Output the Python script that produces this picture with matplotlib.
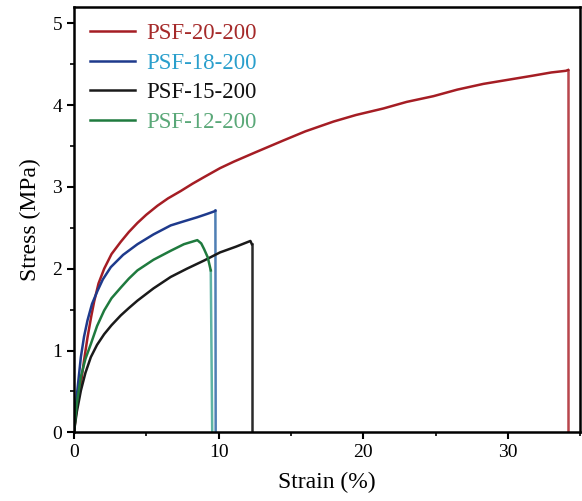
import matplotlib.pyplot as plt
from matplotlib.ticker import MultipleLocator

plt.rcParams['font.family'] = ['Liberation Serif', 'DejaVu Serif']

labels = ['PSF-20-200', 'PSF-18-200', 'PSF-15-200', 'PSF-12-200']
line_colors = ['#a51d24', '#1e3a8c', '#1a1a1a', '#1f7a3e']
drop_colors = ['#b8454c', '#4f7fb4', '#2a2a2a', '#5fb4a4']
text_colors = ['#a52a2a', '#2a9fcc', '#111111', '#5aa878']

# strain (%), stress (MPa)
strain_20 = [0, 0.2, 0.48, 0.7, 0.94, 1.2, 1.4, 1.7, 2.09, 2.6, 3.24, 3.8, 4.39, 5.0,
             5.77, 6.5, 7.38, 8.2, 8.99, 10.1, 11.06, 12.5, 14.5, 16.0, 17.95, 19.5,
             21.4, 23.0, 24.85, 26.5, 28.3, 30.0, 31.7, 33.0, 34.0, 34.16, 34.16]
stress_20 = [0, 0.3, 0.59, 0.88, 1.16, 1.42, 1.6, 1.82, 2.0, 2.18, 2.33, 2.45, 2.56,
             2.66, 2.77, 2.86, 2.95, 3.04, 3.12, 3.23, 3.31, 3.42, 3.57, 3.68, 3.80, 3.88,
             3.96, 4.04, 4.11, 4.19, 4.26, 4.31, 4.36, 4.40, 4.42, 4.43, 0]

strain_18 = [0, 0.2, 0.48, 0.7, 0.94, 1.25, 1.63, 2.0, 2.55, 3.4, 4.39, 5.5, 6.69,
             7.6, 8.53, 9.2, 9.68, 9.78, 9.8]
stress_18 = [0, 0.45, 0.92, 1.17, 1.37, 1.57, 1.73, 1.87, 2.02, 2.17, 2.30, 2.42, 2.53,
             2.58, 2.63, 2.67, 2.70, 2.71, 0]

strain_15 = [0, 0.2, 0.48, 0.8, 1.17, 1.6, 2.09, 2.6, 3.24, 3.8, 4.39, 5.5, 6.69,
             7.8, 8.99, 10.1, 11.2, 12.2, 12.3, 12.3]
stress_15 = [0, 0.25, 0.51, 0.73, 0.92, 1.07, 1.20, 1.31, 1.43, 1.52, 1.61, 1.76, 1.90,
             2.00, 2.10, 2.20, 2.27, 2.34, 2.30, 0]

strain_12 = [0, 0.2, 0.48, 0.8, 1.17, 1.6, 2.09, 2.6, 3.24, 3.8, 4.39, 5.5, 6.69,
             7.6, 8.53, 8.8, 9.0, 9.25, 9.46, 9.56]
stress_12 = [0, 0.35, 0.68, 0.90, 1.08, 1.30, 1.49, 1.64, 1.77, 1.88, 1.98, 2.11, 2.22,
             2.30, 2.35, 2.31, 2.24, 2.14, 1.98, 0]

series = [(strain_20, stress_20), (strain_18, stress_18),
          (strain_15, stress_15), (strain_12, stress_12)]

fig = plt.figure(figsize=(5.82, 5.01), dpi=100)
ax = fig.add_axes([0.127, 0.137, 0.87, 0.849])

for (x, y), lab, col, dcol in zip(series, labels, line_colors, drop_colors):
    ax.plot(x[-2:], y[-2:], color=dcol, lw=1.8)
    ax.plot(x[:-1], y[:-1], color=col, lw=1.8, label=lab)

ax.set_xlim(0, 35)
ax.set_ylim(0, 5.2)
ax.xaxis.set_major_locator(MultipleLocator(10))
ax.xaxis.set_minor_locator(MultipleLocator(5))
ax.yaxis.set_major_locator(MultipleLocator(1))
ax.yaxis.set_minor_locator(MultipleLocator(0.5))
ax.tick_params(which='major', direction='out', length=5, width=1.5, labelsize=14)
ax.tick_params(which='minor', direction='out', length=3, width=1.2)
for s in ax.spines.values():
    s.set_linewidth(1.8)

ax.set_xlabel('Strain (%)', fontsize=17, labelpad=8)
ax.set_ylabel('Stress (MPa)', fontsize=17, labelpad=8)

leg = ax.legend(loc='upper left', frameon=False, fontsize=16.5, handlelength=1.95,
                labelspacing=0.37, borderaxespad=0.3, handletextpad=0.5)
for txt, c in zip(leg.get_texts(), text_colors):
    txt.set_color(c)

fig.savefig('out.png', dpi=100)
